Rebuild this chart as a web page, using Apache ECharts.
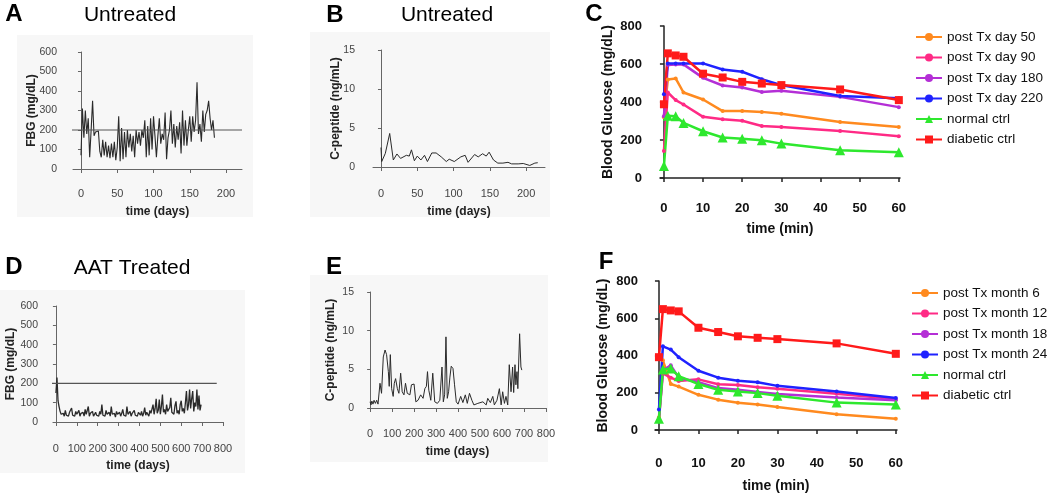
<!DOCTYPE html>
<html>
<head>
<meta charset="utf-8">
<script src="https://cdn.jsdelivr.net/npm/echarts@6/dist/echarts.min.js"></script>
<style>
html, body { margin: 0; padding: 0; background: #fff; }
#chart { width: 1050px; height: 494px; }
</style>
</head>
<body>
<div id="chart"></div>
<script>
// panel A: fasting blood glucose, untreated (one reading every 2 days)
const fbgStepA = 2
const fbgA = [70, 310, 160, 300, 180, 260, 60, 200, 350, 170, 190, 180, 195, 90, 60, 150, 70, 140, 60, 120,
  55, 130, 60, 140, 45, 110, 270, 40, 210, 50, 190, 60, 200, 110, 180, 90, 170, 60, 200, 130,
  190, 120, 200, 160, 250, 60, 220, 70, 260, 100, 270, 170, 60, 170, 260, 130, 180, 150, 290, 50,
  160, 200, 300, 130, 230, 110, 220, 150, 240, 80, 300, 120, 250, 120, 200, 270, 140, 270, 190, 250,
  445, 180, 230, 140, 300, 190, 280, 300, 350, 260, 200, 250, 160]

// panel B: C-peptide, untreated
const daysB = [0, 1, 6, 12, 17, 22, 27, 35, 39, 42, 46, 50, 55, 60, 64, 70, 76, 83, 90, 94, 101, 110, 116, 120,
  129, 134, 140, 145, 149, 155, 161, 168, 175, 180, 189, 196, 205, 212, 216]
const cpepB = [2.5, 0.7, 1.75, 4.3, 0.9, 1.67, 1.1, 1.5, 1.4, 2.2, 0.8, 1.4, 0.9, 1.5, 0.7, 1.8, 1.8, 1.3, 0.7, 1.0,
  0.7, 1.3, 1.5, 0.6, 1.6, 1.3, 1.7, 1.4, 1.9, 0.9, 0.5, 0.5, 0.6, 0.4, 0.4, 0.45, 0.2, 0.5, 0.55]

// panel D: fasting blood glucose, AAT treated (one reading every 5 days)
const fbgStepD = 5
const fbgD = [150, 230, 110, 80, 55, 40, 35, 45, 30, 60, 35, 45, 30, 50, 40, 72, 35, 45, 30, 55,
  40, 35, 60, 30, 45, 35, 50, 30, 65, 40, 35, 80, 30, 45, 35, 55, 30, 40, 50, 35,
  45, 30, 55, 40, 90, 35, 45, 30, 60, 40, 35, 50, 30, 80, 40, 35, 45, 25, 55, 40,
  35, 50, 30, 45, 65, 35, 40, 30, 80, 40, 35, 55, 30, 45, 40, 60, 35, 45, 30, 50,
  40, 35, 55, 30, 45, 75, 35, 50, 40, 30, 60, 45, 35, 90, 40, 70, 120, 45, 60, 116,
  40, 80, 142, 50, 65, 40, 90, 55, 45, 75, 125, 50, 60, 40, 85, 107, 45, 60, 40, 90,
  110, 55, 70, 45, 100, 160, 60, 90, 168, 70, 120, 160, 55, 100, 80, 168, 65, 137, 60, 90]

// panel E: C-peptide, AAT treated
const daysE = [0, 4, 8, 13, 18, 24, 30, 36, 45, 52, 60, 68, 75, 83, 87, 92, 98, 105, 110, 116, 124, 131, 139, 146,
  154, 161, 169, 181, 188, 200, 208, 218, 230, 241, 249, 256, 261, 267, 276, 285, 294, 306, 317, 327, 333,
  339, 345, 351, 357, 363, 369, 377, 384, 392, 400, 412, 422, 433, 442, 452, 463, 472, 490, 513, 528, 535,
  547, 558, 565, 577, 588, 596, 603, 611, 618, 626, 633, 641, 648, 653, 659, 663, 668, 672, 680, 686, 690]
const cpepE = [0.8, 0.4, 0.9, 0.5, 1.0, 0.6, 1.0, 0.5, 3.2, 1.9, 6.6, 7.5, 6.9, 4.7, 2.8, 6.9, 2.5, 1.5, 3.2, 3.8, 2.5, 1.9, 4.5, 2.1,
  1.7, 3.2, 1.9, 1.7, 3.0, 3.1, 0.8, 1.0, 1.7, 1.25, 2.5, 2.8, 4.7, 2.3, 1.0, 4.5, 0.8, 0.6, 1.0, 5.3, 0.8,
  1.7, 9.2, 1.25, 2.1, 4.0, 5.4, 5.1, 3.0, 0.8, 0.5, 1.5, 0.7, 1.7, 0.6, 1.9, 1.0, 0.4, 0.6, 0.8, 0.4, 1.25,
  0.7, 1.5, 0.4, 1.0, 2.5, 0.4, 2.1, 0.6, 1.5, 0.4, 5.6, 2.1, 5.3, 2.0, 5.6, 3.0, 4.7, 2.5, 9.6, 5.3, 4.9]

const fbgThreshold = 200

// panels C and F: glucose tolerance test
const timeMin = [0, 1, 3, 5, 10, 15, 20, 25, 30, 45, 60]
const namesC = ['post Tx day 50', 'post Tx day 90', 'post Tx day 180', 'post Tx day 220', 'normal ctrl', 'diabetic ctrl']
const glucoseC = [
  [320, 519, 524, 450, 413, 352, 352, 348, 338, 295, 269],
  [142, 450, 410, 387, 322, 309, 301, 274, 269, 248, 220],
  [325, 595, 598, 598, 527, 487, 476, 453, 459, 427, 373],
  [441, 603, 603, 603, 603, 571, 559, 520, 489, 432, 420],
  [63, 327, 325, 290, 246, 213, 207, 199, 181, 146, 135],
  [388, 656, 645, 638, 549, 529, 506, 497, 489, 466, 410]
]
const namesF = ['post Tx month 6', 'post Tx month 12', 'post Tx month 18', 'post Tx month 24', 'normal ctrl', 'diabetic ctrl']
const glucoseF = [
  [67, 374, 247, 233, 189, 163, 146, 137, 123, 84, 61],
  [58, 304, 281, 263, 272, 246, 242, 230, 221, 195, 167],
  [58, 321, 347, 281, 256, 225, 216, 204, 193, 175, 160],
  [110, 449, 432, 391, 318, 281, 265, 256, 237, 207, 172],
  [61, 325, 330, 289, 247, 216, 207, 198, 184, 147, 137],
  [391, 649, 642, 637, 549, 526, 503, 495, 488, 465, 409]
]

const lineColors = ['#ff8a1f', '#ff2a85', '#b42fd6', '#1f22ff', '#2ee82e', '#ff1a1a']
const lineSymbols = ['circle', 'circle', 'circle', 'circle', 'triangle', 'rect']
const symbolSizes = [4, 4, 4, 4, 10, 8]

const FONT = '"Liberation Sans", Arial, sans-serif'

const chart = echarts.init(document.getElementById('chart'), null, { renderer: 'canvas' })

function smallX(gi, min, max, ticks, offset, nameGap) {
  return {
    type: 'value', gridIndex: gi, min: min, max: max, offset: offset,
    name: 'time (days)', nameLocation: 'middle', nameGap: nameGap, nameMoveOverlap: false,
    nameTextStyle: { fontFamily: FONT, fontWeight: 'bold', fontSize: 12, color: '#222' },
    axisLine: { lineStyle: { color: '#666', width: 1 } },
    axisTick: { customValues: ticks, length: 4, lineStyle: { color: '#666' } },
    axisLabel: { customValues: ticks, fontFamily: FONT, fontSize: 11, color: '#444', margin: 6 },
    splitLine: { show: false }
  }
}

function smallY(gi, max, interval, name, offset, nameGap) {
  return {
    type: 'value', gridIndex: gi, min: 0, max: max, interval: interval, offset: offset,
    name: name, nameLocation: 'middle', nameGap: nameGap, nameMoveOverlap: false,
    nameTextStyle: { fontFamily: FONT, fontWeight: 'bold', fontSize: 12, color: '#222' },
    axisLine: { show: true, lineStyle: { color: '#666', width: 1 } },
    axisTick: { show: true, length: 3, lineStyle: { color: '#666' } },
    axisLabel: { fontFamily: FONT, fontSize: 10.5, color: '#444', margin: 3 },
    splitLine: { show: false }
  }
}

function boldX(gi, offset, nameGap) {
  return {
    type: 'value', gridIndex: gi, min: -1, max: 60.3, offset: offset,
    name: 'time (min)', nameLocation: 'middle', nameGap: nameGap, nameMoveOverlap: false,
    nameTextStyle: { fontFamily: FONT, fontWeight: 'bold', fontSize: 14, color: '#111' },
    axisLine: { lineStyle: { color: '#222', width: 1.5 } },
    axisTick: { customValues: [0, 10, 20, 30, 40, 50, 60], length: 4, lineStyle: { color: '#222', width: 1.5 } },
    axisLabel: { customValues: [0, 10, 20, 30, 40, 50, 60], fontFamily: FONT, fontWeight: 'bold', fontSize: 13, color: '#111', margin: 9 },
    splitLine: { show: false }
  }
}

function boldY(gi, offset, nameGap) {
  return {
    type: 'value', gridIndex: gi, min: 0, max: 800, interval: 200, offset: offset,
    name: 'Blood Glucose (mg/dL)', nameLocation: 'middle', nameGap: nameGap, nameMoveOverlap: false,
    nameTextStyle: { fontFamily: FONT, fontWeight: 'bold', fontSize: 14, color: '#111' },
    axisLine: { show: true, lineStyle: { color: '#222', width: 1.5 } },
    axisTick: { show: true, length: 4, lineStyle: { color: '#222', width: 1.5 } },
    axisLabel: { fontFamily: FONT, fontWeight: 'bold', fontSize: 13, color: '#111', margin: 4 },
    splitLine: { show: false }
  }
}

function traceSeries(gi, data, width) {
  return {
    type: 'line', xAxisIndex: gi, yAxisIndex: gi, data: data,
    symbol: 'none', silent: true,
    lineStyle: { color: '#2a2a2a', width: width }
  }
}

function thresholdSeries(gi, x0, x1) {
  return {
    type: 'line', xAxisIndex: gi, yAxisIndex: gi, clip: false,
    data: [[x0, fbgThreshold], [x1, fbgThreshold]],
    symbol: 'none', silent: true, z: 3,
    lineStyle: { color: '#555', width: 1.2 }
  }
}

function gttSeries(gi, names, values) {
  return names.map((name, i) => ({
    name: name, type: 'line', xAxisIndex: gi, yAxisIndex: gi,
    data: timeMin.map((t, j) => [t, values[i][j]]),
    symbol: lineSymbols[i], symbolSize: symbolSizes[i], showAllSymbol: true,
    color: lineColors[i],
    lineStyle: { color: lineColors[i], width: 2.5 },
    itemStyle: { color: lineColors[i] }
  }))
}

function label(x, y, text, size, bold) {
  return {
    type: 'text', x: x, y: y, z: 10,
    style: {
      text: text, fontFamily: FONT, fontSize: size, fontWeight: bold ? 'bold' : 'normal',
      fill: '#000', textAlign: 'center', verticalAlign: 'middle'
    }
  }
}

function panelBg(x, y, w, h) {
  return { type: 'rect', z: -10, shape: { x: x, y: y, width: w, height: h }, style: { fill: '#f7f7f7' } }
}

const legendBase = {
  orient: 'vertical', padding: 0, itemWidth: 26, itemHeight: 10, itemGap: 6.5,
  textStyle: { fontFamily: FONT, fontSize: 13.5, color: '#111' }
}

chart.setOption({
  animation: false,
  grid: [
    { left: 73, top: 52, width: 169, height: 117 },   // A
    { left: 373, top: 50, width: 172, height: 117 },  // B
    { left: 660, top: 26, width: 240, height: 152 },  // C
    { left: 53, top: 306, width: 170, height: 116 },  // D
    { left: 369, top: 292, width: 177, height: 116 }, // E
    { left: 655, top: 281, width: 242, height: 152 }  // F
  ],
  xAxis: [
    smallX(0, -11, 222, [0, 50, 100, 150, 200], 13, 24),
    smallX(1, -11, 226, [0, 50, 100, 150, 200], 15, 24),
    boldX(2, 15, 29),
    smallX(3, -14, 800, [0, 100, 200, 300, 400, 500, 600, 700, 800], 15, 23),
    smallX(4, -5, 800, [0, 100, 200, 300, 400, 500, 600, 700, 800], 14, 24),
    boldX(5, 18, 31)
  ],
  yAxis: [
    smallY(0, 600, 100, 'FBG (mg/dL)', 13, 22),
    smallY(1, 15, 5, 'C-peptide (ng/mL)', 15, 16),
    boldY(2, 14, 31),
    smallY(3, 600, 100, 'FBG (mg/dL)', 12, 24),
    smallY(4, 15, 5, 'C-peptide (ng/mL)', 12, 20),
    boldY(5, 13, 32)
  ],
  legend: [
    Object.assign({}, legendBase, { left: 915, top: 30, data: namesC }),
    Object.assign({}, legendBase, { left: 911, top: 286, data: namesF })
  ],
  graphic: [
    panelBg(17, 35, 236, 182),
    panelBg(310, 32, 240, 185),
    panelBg(0, 290, 245, 183),
    panelBg(310, 275, 238, 187),
    label(14, 14, 'A', 24, true),
    label(130, 15, 'Untreated', 21, false),
    label(335, 15, 'B', 24, true),
    label(447, 15, 'Untreated', 21, false),
    label(594, 14, 'C', 24, true),
    label(14, 267, 'D', 24, true),
    label(132, 268, 'AAT Treated', 21, false),
    label(334, 267, 'E', 24, true),
    label(606, 262, 'F', 24, true)
  ],
  series: [
    traceSeries(0, fbgA.map((v, i) => [i * fbgStepA, v]), 1.1),
    thresholdSeries(0, -29, 222),
    traceSeries(1, daysB.map((d, i) => [d, cpepB[i]]), 1),
    traceSeries(3, fbgD.map((v, i) => [i * fbgStepD, v]), 1.3),
    thresholdSeries(3, -72, 770),
    traceSeries(4, daysE.map((d, i) => [d, cpepE[i]]), 1)
  ].concat(gttSeries(2, namesC, glucoseC), gttSeries(5, namesF, glucoseF))
})
</script>
</body>
</html>
